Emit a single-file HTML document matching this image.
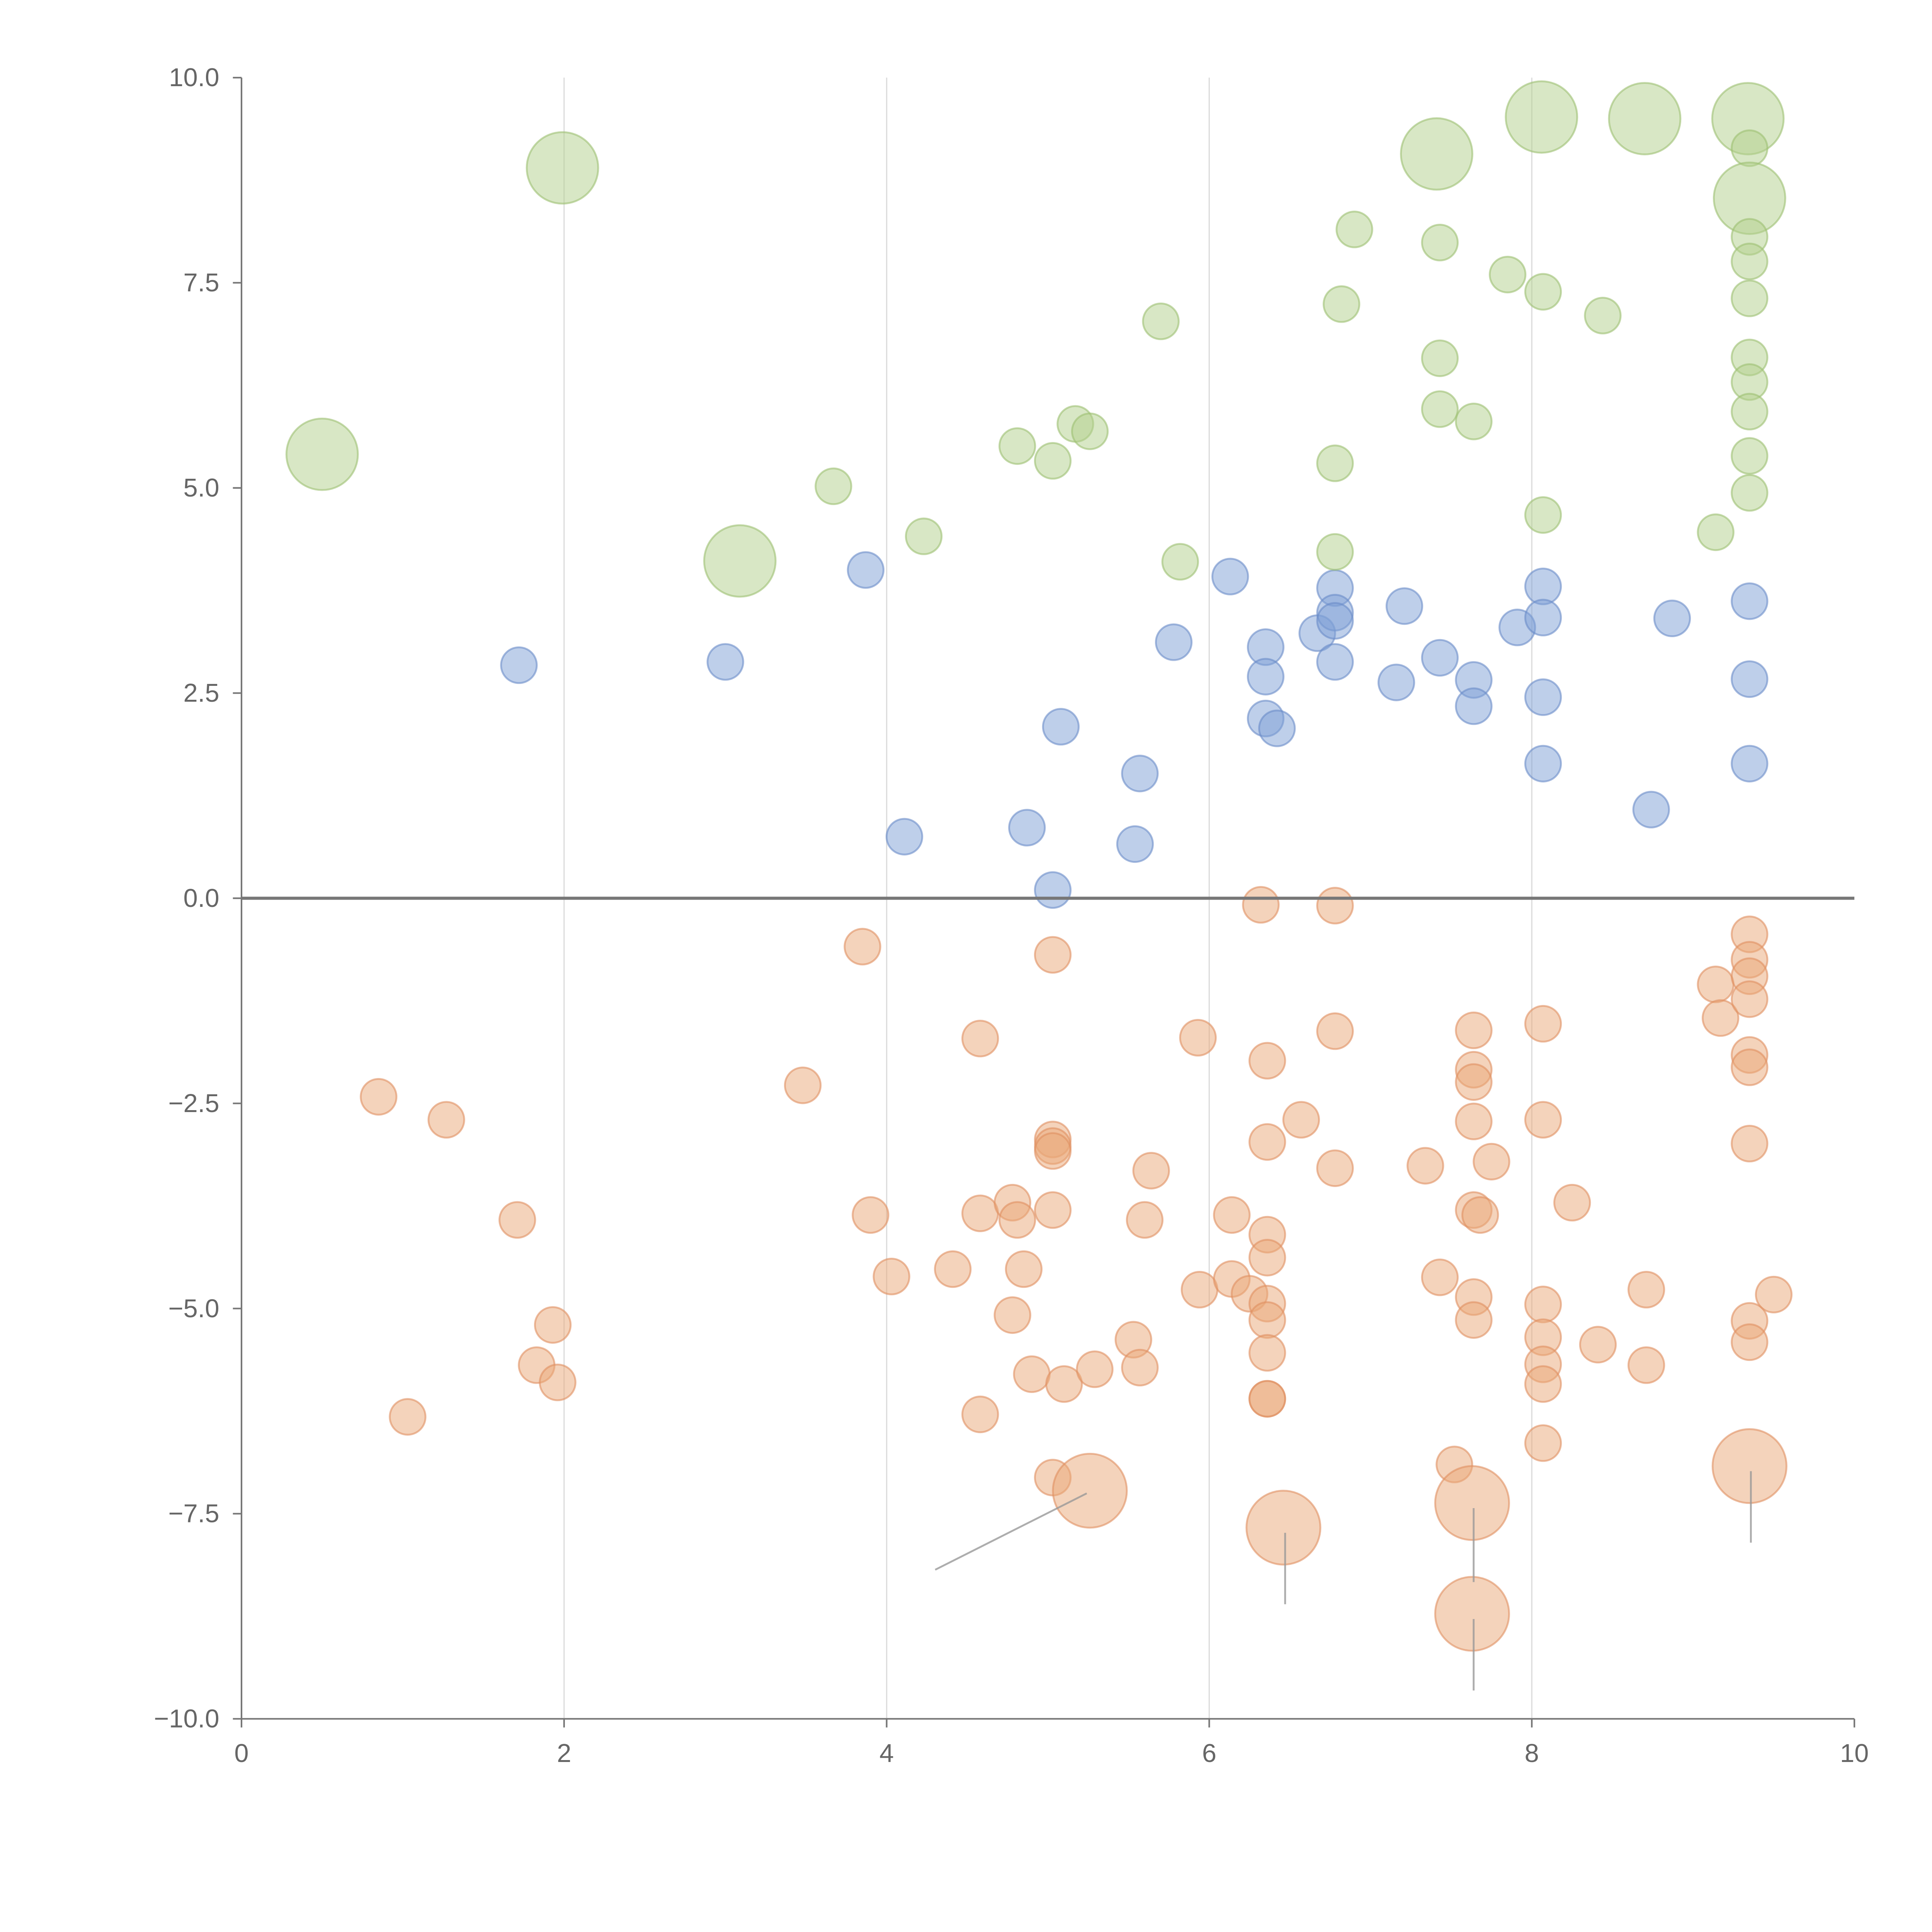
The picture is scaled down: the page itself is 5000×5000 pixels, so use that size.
<!DOCTYPE html>
<html><head><meta charset="utf-8"><style>html,body{margin:0;padding:0;background:#fff}svg{display:block}</style></head>
<body>
<svg id="chart" width="5000" height="5000" viewBox="0 0 1568 1568" xmlns="http://www.w3.org/2000/svg" font-family="Liberation Sans, sans-serif">
<g id="grid"></g>
<g id="axes"></g>
<g id="marks"></g>
</svg>
<script>
const xTicks=[0,2,4,6,8,10];
const yTicks=[10,7.5,5,2.5,0,-2.5,-5,-7.5,-10];
const yTickLabels=["10.0","7.5","5.0","2.5","0.0","\u22122.5","\u22125.0","\u22127.5","\u221210.0"];
const blueX=[1.72,3.0,3.87,4.11,4.87,5.08,5.03,5.54,5.57,5.78,6.13,6.35,6.35,6.35,6.42,6.67,6.78,6.78,6.78,6.78,7.16,7.21,7.43,7.64,7.64,7.91,8.07,8.07,8.07,8.07,8.74,8.87,9.35,9.35,9.35];
const blueY=[2.84,2.88,4.0,0.75,0.86,2.09,0.1,0.66,1.52,3.12,3.92,3.06,2.7,2.19,2.07,3.23,3.78,3.48,3.38,2.88,2.63,3.56,2.93,2.66,2.34,3.3,3.8,3.42,2.45,1.64,1.08,3.41,3.62,2.67,1.64];
const greenX=[1.99,0.5,3.09,3.67,4.23,4.81,5.03,5.17,5.26,5.7,5.82,6.78,6.78,6.82,6.9,7.43,7.43,7.43,7.64,7.41,7.85,8.07,8.07,8.06,8.44,8.7,9.34,9.35,9.35,9.35,9.35,9.35,9.35,9.35,9.35,9.35,9.35,9.14];
const greenY=[8.9,5.41,4.11,5.02,4.41,5.51,5.33,5.78,5.69,7.03,4.1,5.3,4.22,7.24,8.15,7.99,6.58,5.96,5.81,9.07,7.6,7.39,4.67,9.52,7.1,9.5,9.5,9.14,8.53,8.06,7.76,7.31,6.59,6.29,5.93,5.39,4.94,4.46];
const greenBig=[1,1,1,0,0,0,0,0,0,0,0,0,0,0,0,0,0,0,0,1,0,0,0,1,0,1,1,0,1,0,0,0,0,0,0,0,0,0];
const orangeX=[0.85,1.27,1.71,1.93,1.83,1.96,1.03,3.48,3.85,3.9,4.03,4.41,4.58,4.58,4.78,4.81,4.85,4.78,4.9,4.58,5.03,5.03,5.03,5.03,5.03,5.1,5.03,5.29,5.53,5.57,5.64,5.6,5.93,5.94,6.14,6.14,6.25,6.32,6.36,6.36,6.36,6.36,6.36,6.36,6.36,6.36,6.36,6.57,6.78,6.78,6.78,7.34,7.43,7.52,7.64,7.64,7.64,7.64,7.64,7.68,7.75,7.64,7.64,8.07,8.07,8.07,8.07,8.07,8.07,8.07,8.25,8.41,8.71,8.71,9.14,9.17,9.35,9.35,9.35,9.35,9.35,9.35,9.35,9.35,9.35,9.5];
const orangeY=[-2.42,-2.7,-3.92,-5.2,-5.69,-5.9,-6.32,-2.28,-0.59,-3.86,-4.61,-4.52,-1.71,-3.84,-3.71,-3.92,-4.52,-5.08,-5.8,-6.29,-0.69,-2.94,-3.02,-3.08,-3.8,-5.92,-7.06,-5.74,-5.38,-5.72,-3.32,-3.92,-1.7,-4.77,-3.86,-4.64,-4.82,-0.08,-1.98,-2.97,-4.1,-4.38,-4.94,-5.14,-5.54,-6.1,-6.1,-2.7,-0.09,-1.62,-3.29,-3.26,-4.62,-6.9,-1.61,-2.09,-2.24,-2.72,-3.8,-3.86,-3.21,-4.86,-5.14,-1.53,-2.7,-4.95,-5.35,-5.68,-5.92,-6.64,-3.71,-5.44,-4.77,-5.69,-1.05,-1.46,-0.44,-0.75,-0.95,-1.23,-1.91,-2.06,-2.99,-5.15,-5.41,-4.83];
const orangeBigX=[5.26,6.46,7.63,7.63,9.35];
const orangeBigY=[-7.22,-7.67,-7.37,-8.72,-6.92];
const NS="http://www.w3.org/2000/svg";
const X0=196,X1=1505,Y0=1395,Y1=63;
function sx(v){return X0+(v-0)/(10-0)*(X1-X0);}
function sy(v){return Y0-(v+10)/20*(Y0-Y1);}
function mk(tag,attrs,parent){const e=document.createElementNS(NS,tag);for(const k in attrs)e.setAttribute(k,attrs[k]);parent.appendChild(e);return e;}
const grid=document.getElementById('grid'),axes=document.getElementById('axes'),marks=document.getElementById('marks');
xTicks.forEach(t=>{if(t>0&&t<10){const l=mk('line',{x1:sx(t),x2:sx(t),y1:Y1,y2:Y0,stroke:'#dcdcdc','stroke-width':1},grid);

}});
let a=mk('line',{x1:X0,x2:X0,y1:Y1,y2:Y0,stroke:'#777','stroke-width':1.3},axes);


a=mk('line',{x1:X0,x2:X1,y1:Y0,y2:Y0,stroke:'#777','stroke-width':1.3},axes);


xTicks.forEach(t=>{mk('line',{x1:sx(t),x2:sx(t),y1:Y0,y2:Y0+7,stroke:'#777','stroke-width':1.3},axes);
const tx=mk('text',{x:sx(t),y:Y0+35,'text-anchor':'middle','font-size':21,fill:'#666'},axes);tx.textContent=t;

});
yTicks.forEach((t,i)=>{mk('line',{x1:X0-7,x2:X0,y1:sy(t),y2:sy(t),stroke:'#777','stroke-width':1.3},axes);
const tx=mk('text',{x:X0-18,y:sy(t)+7,'text-anchor':'end','font-size':21,fill:'#666'},axes);tx.textContent=yTickLabels[i];

});
function dot(x,y,r,fill,stroke,name){const c=mk('circle',{cx:sx(x),cy:sy(y),r:r,fill:fill,'fill-opacity':0.5,stroke:stroke,'stroke-opacity':0.6,'stroke-width':1.5},marks);

}
blueX.forEach((x,i)=>dot(x,blueY[i],14.5,'#7d9fd6','#6a8cc8','blue-bubble'));
greenX.forEach((x,i)=>dot(x,greenY[i],greenBig[i]?29:14.5,'#b2d08c','#9cc072','green-bubble'));
orangeX.forEach((x,i)=>dot(x,orangeY[i],14.5,'#eaa878','#e09060','orange-bubble'));
orangeBigX.forEach((x,i)=>dot(x,orangeBigY[i],30,'#eaa878','#e09060','orange-big-bubble'));
const z=mk('line',{x1:X0,x2:X1,y1:sy(0),y2:sy(0),stroke:'#777','stroke-width':2.5},marks);


const leaders=[[882,1212,759,1274],[1043,1244,1043,1302],[1196,1224,1196,1284],[1196,1314,1196,1372],[1421,1194,1421,1252]];
leaders.forEach(p=>{const l=mk('line',{x1:p[0],y1:p[1],x2:p[2],y2:p[3],stroke:'#999','stroke-width':1.5,'stroke-opacity':0.8},marks);

});
</script>
</body></html>
